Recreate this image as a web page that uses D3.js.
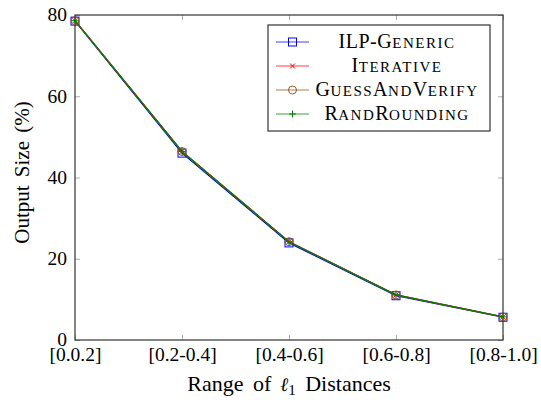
<!DOCTYPE html>
<html>
<head>
<meta charset="utf-8">
<script src="https://cdn.jsdelivr.net/npm/d3@7"></script>
<style>
  body { margin: 0; background: #fff; }
  text { font-family: "Liberation Serif", "Times New Roman", serif; fill: #000; }
</style>
</head>
<body>
<div id="chart"></div>
<script>
// data
var categories = ["[0.0.2]", "[0.2-0.4]", "[0.4-0.6]", "[0.6-0.8]", "[0.8-1.0]"];
var ilpGeneric = [78.5, 46.0, 23.9, 10.9, 5.6];
var iterative = [78.6, 46.4, 24.2, 11.1, 5.7];
var guessAndVerify = [78.6, 46.4, 24.2, 11.1, 5.7];
var randRounding = [78.6, 46.4, 24.2, 11.1, 5.7];
var yTicks = [0, 20, 40, 60, 80];

var series = [
    { name: "ILP-Generic", values: ilpGeneric, color: "#0000ff", marker: "square" },
    { name: "Iterative", values: iterative, color: "#ff0000", marker: "cross" },
    { name: "GuessAndVerify", values: guessAndVerify, color: "#99531f", marker: "circle" },
    { name: "RandRounding", values: randRounding, color: "#007f00", marker: "plus" }
];

var width = 541, height = 403;
// plot frame (note: "top" is reserved on window, so prefix these)
var pLeft = 75, pRight = 503, pTop = 15, pBottom = 340;

var svg = d3.select("#chart").append("svg")
    .attr("width", width)
    .attr("height", height);

var x = d3.scalePoint().domain(categories).range([pLeft, pRight]);
var y = d3.scaleLinear().domain([0, 80]).range([pBottom, pTop]);

// ticks on all four sides, pointing inward
var tickColor = "#999";
var bottomAxis = svg.append("g")
    .attr("transform", `translate(0,${pBottom})`)
    .call(d3.axisBottom(x).tickSizeInner(-5).tickSizeOuter(0).tickPadding(6));
var topAxis = svg.append("g")
    .attr("transform", `translate(0,${pTop})`)
    .call(d3.axisTop(x).tickSizeInner(-5).tickSizeOuter(0).tickFormat(""));
var leftAxis = svg.append("g")
    .attr("transform", `translate(${pLeft},0)`)
    .call(d3.axisLeft(y).tickValues(yTicks).tickSizeInner(-5).tickSizeOuter(0).tickPadding(8));
var rightAxis = svg.append("g")
    .attr("transform", `translate(${pRight},0)`)
    .call(d3.axisRight(y).tickValues(yTicks).tickSizeInner(-5).tickSizeOuter(0).tickFormat(""));

[bottomAxis, topAxis, leftAxis, rightAxis].forEach(g => {
    g.attr("font-family", null);
    g.select(".domain").remove();
    g.selectAll(".tick line").attr("stroke", tickColor).attr("stroke-width", 0.8);
    g.selectAll("text").attr("font-size", 19.5);
});
bottomAxis.selectAll("text").attr("dy", "0.75em");
leftAxis.selectAll("text").attr("dy", "0.3em");

// frame
svg.append("rect")
    .attr("x", pLeft).attr("y", pTop)
    .attr("width", pRight - pLeft).attr("height", pBottom - pTop)
    .attr("fill", "none").attr("stroke", "#333").attr("stroke-width", 1.2);

// markers
function drawMarker(g, type, color, cx, cy) {
    if (type === "square") {
        g.append("rect").attr("x", cx - 4).attr("y", cy - 4).attr("width", 8).attr("height", 8)
            .attr("fill", "none").attr("stroke", color).attr("stroke-width", 1);
    } else if (type === "cross") {
        g.append("path").attr("d", `M${cx-2.5},${cy-2.5}L${cx+2.5},${cy+2.5}M${cx-2.5},${cy+2.5}L${cx+2.5},${cy-2.5}`)
            .attr("stroke", color).attr("stroke-width", 1);
    } else if (type === "circle") {
        g.append("circle").attr("cx", cx).attr("cy", cy).attr("r", 4)
            .attr("fill", "none").attr("stroke", color).attr("stroke-width", 1);
    } else if (type === "plus") {
        g.append("path").attr("d", `M${cx-3.5},${cy}L${cx+3.5},${cy}M${cx},${cy-3.5}L${cx},${cy+3.5}`)
            .attr("stroke", color).attr("stroke-width", 1);
    }
}

var line = d3.line()
    .x((d, i) => x(categories[i]))
    .y(d => y(d));

series.forEach(s => {
    var g = svg.append("g");
    g.append("path")
        .datum(s.values)
        .attr("fill", "none")
        .attr("stroke", s.color)
        .attr("stroke-width", 1.2)
        .attr("d", line);
    s.values.forEach((v, i) => drawMarker(g, s.marker, s.color, x(categories[i]), y(v)));
});

// legend
var legend = svg.append("g");
legend.append("rect")
    .attr("x", 268).attr("y", 25).attr("width", 222).attr("height", 106)
    .attr("fill", "#fff").attr("stroke", "#333").attr("stroke-width", 1.2);

// [text, is small caps]
var legendLabels = [
    [["ILP-", false], ["Generic", true]],
    [["Iterative", true]],
    [["GuessAndVerify", true]],
    [["RandRounding", true]]
];
var rowY = [42, 66, 90, 114];

// fake small caps: capitals at full size, lower case upper-cased and shrunk
function addSmallCaps(t, str) {
    var parts = str.match(/[A-Z]+|[^A-Z]+/g);
    parts.forEach(p => {
        if (/[A-Z]/.test(p[0])) t.append("tspan").attr("font-size", 20).attr("letter-spacing", 0.5).text(p);
        else t.append("tspan").attr("font-size", 15).attr("letter-spacing", 1.5).text(p.toUpperCase());
    });
}

series.forEach((s, i) => {
    var ly = rowY[i];
    legend.append("line")
        .attr("x1", 276).attr("x2", 309).attr("y1", ly).attr("y2", ly)
        .attr("stroke", s.color).attr("stroke-width", 1.2)
        .attr("stroke-opacity", 0.75);
    drawMarker(legend, s.marker, s.color, 292.5, ly);
    var t = legend.append("text")
        .attr("x", 397).attr("y", ly + 6)
        .attr("text-anchor", "middle")
        .attr("font-size", 20);
    legendLabels[i].forEach(p => {
        if (p[1]) addSmallCaps(t, p[0]);
        else t.append("tspan").attr("letter-spacing", 0.5).text(p[0]);
    });
});

// axis labels
svg.append("text")
    .attr("transform", `translate(29,${(pTop + pBottom) / 2 - 5}) rotate(-90)`)
    .attr("text-anchor", "middle")
    .attr("font-size", 21)
    .attr("word-spacing", 3)
    .text("Output Size (%)");

var xl = svg.append("text")
    .attr("x", (pLeft + pRight) / 2).attr("y", 391)
    .attr("text-anchor", "middle")
    .attr("font-size", 22)
    .attr("word-spacing", 4);
xl.append("tspan").text("Range of");
xl.append("tspan").attr("dx", 9).attr("font-style", "italic").attr("font-family", "DejaVu Serif, serif").attr("font-size", 19).text("ℓ");
xl.append("tspan").attr("font-size", 15).attr("dy", 4).text("1");
xl.append("tspan").attr("dy", -4).text(" Distances");
</script>
</body>
</html>
